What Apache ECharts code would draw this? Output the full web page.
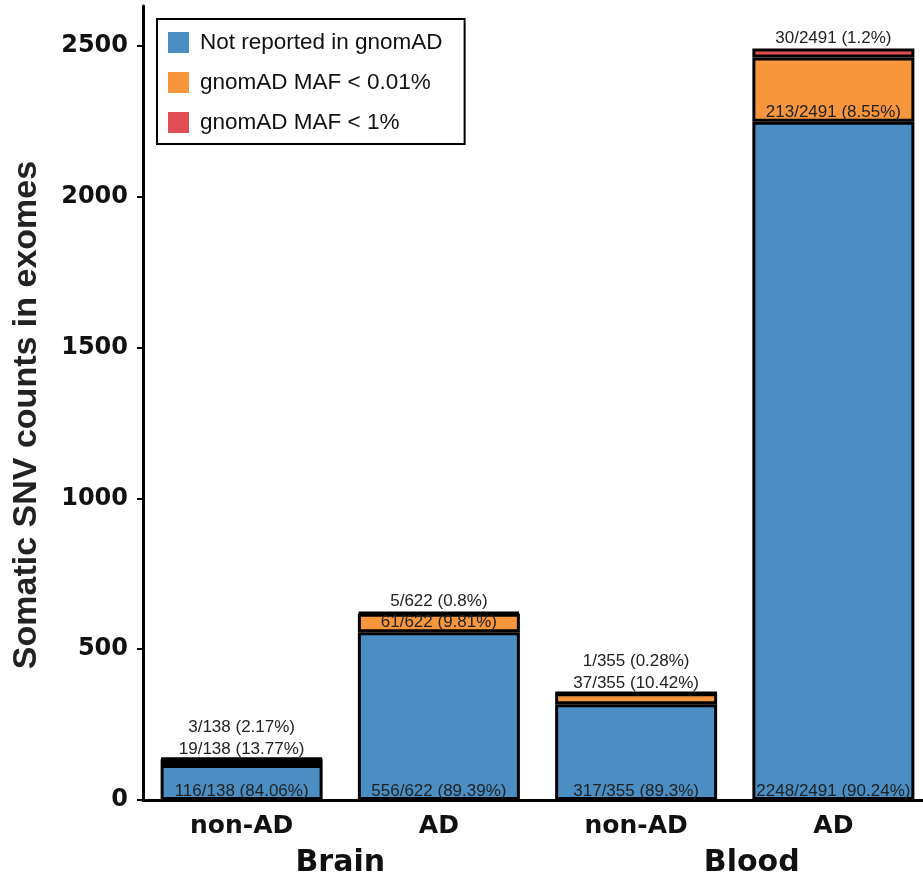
<!DOCTYPE html>
<html>
<head>
<meta charset="utf-8">
<script src="https://cdn.jsdelivr.net/npm/echarts@6/dist/echarts.min.js"></script>
<style>
  html, body { margin: 0; padding: 0; background: #fff; }
  #chart { width: 923px; height: 878px; }
</style>
</head>
<body>
<div id="chart"></div>
<script>
// Somatic SNV counts per cohort, split by gnomAD annotation
const categories = ['non-AD', 'AD', 'non-AD', 'AD'];
const tissues = ['Brain', 'Blood'];
const seriesNames = ['Not reported in gnomAD', 'gnomAD MAF < 0.01%', 'gnomAD MAF < 1%'];
const notReported = [116, 556, 317, 2248];
const mafRare = [19, 61, 37, 213];
const mafCommon = [3, 5, 1, 30];
const yTicks = [0, 500, 1000, 1500, 2000, 2500];

const colors = ['#4a8ec3', '#f7963d', '#e04d52'];
const totals = notReported.map((v, i) => v + mafRare[i] + mafCommon[i]);
const yMax = 2632;

function pct(v, t) {
  return String(Math.round(v / t * 10000) / 100);
}
function labelText(v, i) {
  return v + '/' + totals[i] + ' (' + pct(v, totals[i]) + '%)';
}

const labelFont = { fontFamily: 'Liberation Sans, Arial, sans-serif', fontSize: 17, color: '#222' };

// small orange segments get their label above the bar, with the red label stacked over it
const rareOnTop = mafRare.map(v => v < 50);

const blueData = notReported.map((v, i) => ({
  value: v,
  label: Object.assign({ show: true, position: 'insideBottom', distance: 0, formatter: labelText(v, i) }, labelFont)
}));
const orangeData = mafRare.map((v, i) => ({
  value: v,
  label: Object.assign({
    show: true,
    position: rareOnTop[i] ? 'top' : 'insideBottom',
    distance: 1,
    formatter: labelText(v, i)
  }, labelFont)
}));
const redData = mafCommon.map((v, i) => ({
  value: v,
  label: Object.assign({
    show: true,
    position: 'top',
    distance: rareOnTop[i] ? 22 : 2,
    formatter: labelText(v, i)
  }, labelFont)
}));

const barStyle = c => ({ color: c, borderColor: '#000', borderWidth: 3 });

// tissue labels under each pair of bars; the blood label sits a little right of centre
const tissueData = tissues.map((t, i) => (i === 1 ? { value: t, textStyle: { padding: [0, 0, 0, 34] } } : t));

const chart = echarts.init(document.getElementById('chart'), null, { renderer: 'canvas' });
chart.setOption({
  animation: false,
  backgroundColor: '#fff',
  legend: {
    orient: 'vertical',
    left: 157,
    top: 19,
    padding: [12, 22, 10, 11],
    itemWidth: 21,
    itemHeight: 21,
    itemGap: 17,
    borderColor: '#000',
    borderWidth: 2,
    icon: 'rect',
    itemStyle: { borderWidth: 0 },
    textStyle: { fontFamily: 'Liberation Sans, Arial, sans-serif', fontSize: 22.5, color: '#111', padding: [0, 0, 0, 6] },
    data: seriesNames
  },
  grid: { left: 143, top: 6, bottom: 78, width: 789, containLabel: false, outerBoundsMode: 'none' },
  xAxis: [
    {
      type: 'category',
      data: categories,
      axisLine: { show: true, lineStyle: { color: '#000', width: 3 } },
      axisTick: { show: false },
      axisLabel: { margin: 14, fontFamily: 'DejaVu Sans, sans-serif', fontWeight: 'bold', fontSize: 25, color: '#111' }
    },
    {
      type: 'category',
      data: tissueData,
      position: 'bottom',
      axisLine: { show: false },
      axisTick: { show: false },
      axisLabel: {
        margin: 48,
        fontFamily: 'DejaVu Sans, sans-serif', fontWeight: 'bold', fontSize: 30, color: '#111'
      }
    }
  ],
  yAxis: {
    type: 'value',
    min: 0,
    max: yMax,
    interval: 500,
    name: 'Somatic SNV counts in exomes',
    nameLocation: 'middle',
    nameRotate: 90,
    nameGap: 99,
    nameTextStyle: {
      fontFamily: 'Liberation Sans, Arial, sans-serif', fontWeight: 'bold', fontSize: 34, color: '#222',
      padding: [0, 24, 0, 0]
    },
    splitLine: { show: false },
    axisLine: { show: true, lineStyle: { color: '#000', width: 3 } },
    axisTick: { show: true, length: 6, lineStyle: { color: '#000', width: 2 }, customValues: yTicks },
    axisLabel: {
      margin: 15, customValues: yTicks,
      formatter: v => String(v),
      fontFamily: 'DejaVu Sans, sans-serif', fontWeight: 'bold', fontSize: 24, color: '#111'
    }
  },
  series: [
    { name: seriesNames[0], type: 'bar', stack: 'snv', barWidth: 162, data: blueData, itemStyle: barStyle(colors[0]) },
    { name: seriesNames[1], type: 'bar', stack: 'snv', barWidth: 162, data: orangeData, itemStyle: barStyle(colors[1]) },
    { name: seriesNames[2], type: 'bar', stack: 'snv', barWidth: 162, data: redData, itemStyle: barStyle(colors[2]) }
  ]
});
</script>
</body>
</html>
